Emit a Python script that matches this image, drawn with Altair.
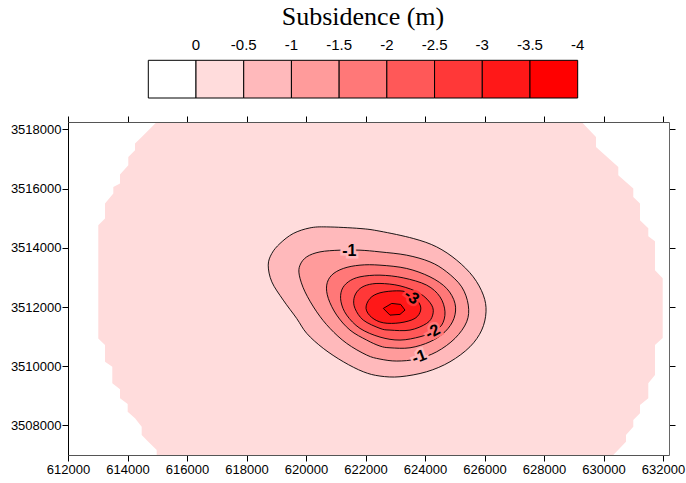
import altair as alt
import pandas as pd

# ---------------- data ----------------
legend_title = "Subsidence (m)"
legend_labels = ["0", "-0.5", "-1", "-1.5", "-2", "-2.5", "-3", "-3.5", "-4"]
legend_colors = ["#FFFFFF", "#FFDCDC", "#FFB9BB", "#FF9B9B", "#FF7878",
                 "#FF5858", "#FF3838", "#FF1818", "#FF0000"]
contour_levels = [-0.5, -1.0, -1.5, -2.0, -2.5, -3.0, -3.5]

x_ticks = [612000, 614000, 616000, 618000, 620000, 622000, 624000,
           626000, 628000, 630000, 632000]
y_ticks = [3508000, 3510000, 3512000, 3514000, 3516000, 3518000]

# outline of the gridded (blanked) area, 0 to -0.5 m
outer_x = [614981, 629265, 629746, 629746, 630496, 630496, 631000, 631000, 631225,
           631225, 631504, 631504, 631729, 631729, 631988, 631988, 631729, 631729,
           631504, 631504, 631225, 631225, 631000, 631000, 630754, 630754, 630328,
           614981, 614981, 614699, 614477, 614477, 614252, 614006, 614006, 613748,
           613748, 613489, 613489, 613244, 613244, 613018, 613018, 613244, 613244,
           613523, 613523, 613748, 613748, 614027, 614027, 614252, 614252, 614477]
outer_y = [3518250, 3518250, 3517744, 3517406, 3516731, 3516451, 3516002, 3515719,
           3515496, 3514932, 3514662, 3514392, 3514224, 3513245, 3512975, 3510950,
           3510714, 3509701, 3509421, 3508915, 3508689, 3508408, 3508182, 3507956,
           3507676, 3507450, 3507000, 3507000, 3507170, 3507450, 3507676, 3507956,
           3508240, 3508462, 3508722, 3508915, 3509218, 3509421, 3509981, 3510150,
           3510714, 3510940, 3514764, 3514990, 3515496, 3515833, 3516056, 3516171,
           3516475, 3516789, 3517069, 3517295, 3517521, 3517744]

# contour -0.5
c1_x = [618730, 618850, 619125, 619570, 620130, 620695, 621815, 622485, 623605,
        624390, 625065, 625620, 625960, 626050, 625905, 625510, 624840, 624055,
        623160, 622485, 621925, 621255, 620580, 620025, 619685, 619235, 618850]
c1_y = [3513414, 3513808, 3514146, 3514483, 3514672, 3514706, 3514652, 3514561,
        3514315, 3514031, 3513582, 3513019, 3512401, 3511837, 3511220, 3510656,
        3510150, 3509812, 3509644, 3509667, 3509812, 3510150, 3510602, 3511108,
        3511615, 3512232, 3512850]
# contour -1
c2_x = [619774, 619798, 620023, 620470, 621142, 621814, 622486, 623384, 624167,
        624728, 625232, 625454, 625400, 625007, 624392, 623720, 623048, 622486,
        622039, 621367, 620806, 620359, 619966]
c2_y = [3513076, 3513414, 3513694, 3513862, 3513920, 3513920, 3513862, 3513751,
        3513525, 3513187, 3512681, 3512064, 3511500, 3510940, 3510487, 3510241,
        3510174, 3510241, 3510376, 3510771, 3511277, 3511837, 3512512]
# contour -1.5
c3_x = [620695, 620863, 621253, 621814, 622486, 623384, 624167, 624728, 625007,
        624973, 624671, 624167, 623495, 622822, 622486, 622039, 621478, 621031, 620749]
c3_y = [3512739, 3513076, 3513302, 3513414, 3513414, 3513302, 3513019, 3512627,
        3512121, 3511615, 3511162, 3510825, 3510622, 3510622, 3510680, 3510882,
        3511220, 3511726, 3512290]
# contour -2
c4_x = [621176, 621199, 621421, 621814, 622486, 623269, 624055, 624503, 624671,
        624560, 624224, 623831, 623158, 622486, 621814, 621367]
c4_y = [3512175, 3512570, 3512850, 3513019, 3513076, 3512985, 3512739, 3512344,
        3511837, 3511389, 3511152, 3510994, 3510882, 3510984, 3511277, 3511726]
# contour -2.5
c5_x = [621612, 621757, 622039, 622486, 623158, 623831, 624224, 624257, 624055,
        623495, 622822, 622486, 621925, 621646]
c5_y = [3512290, 3512570, 3512739, 3512796, 3512715, 3512458, 3512064, 3511726,
        3511446, 3511220, 3511220, 3511277, 3511557, 3511952]
# contour -3
c6_x = [622016, 622150, 622486, 623048, 623438, 623774, 623854, 623663, 623158,
        622597, 622207]
c6_y = [3511952, 3512290, 3512479, 3512546, 3512479, 3512175, 3511895, 3511615,
        3511466, 3511466, 3511648]
# contour -3.5
c7_x = [622597, 622880, 623182, 623327, 623158, 622822]
c7_y = [3511952, 3512121, 3512087, 3511895, 3511750, 3511726]

contour_xs = [c1_x, c2_x, c3_x, c4_x, c5_x, c6_x, c7_x]
contour_ys = [c1_y, c2_y, c3_y, c4_y, c5_y, c6_y, c7_y]

# contour labels
label_level = [-1.0, -1.0, -2.0, -3.0]
label_text = ["-1", "-1", "-2", "-3"]
label_x = [621455, 623807, 624257, 623552]
label_y = [3513886, 3510319, 3511162, 3512344]
label_angle = [0, 340, 332, 35]

# ---------------- chart ----------------
X_DOMAIN = [612000, 632200]
Y_DOMAIN = [3507000, 3518250]
W, H = 601, 333
FONT = "Liberation Sans, Arial, sans-serif"


def xsc():
    return alt.Scale(domain=X_DOMAIN, nice=False, zero=False)


def ysc():
    return alt.Scale(domain=Y_DOMAIN, nice=False, zero=False)


def polygon(xs, ys, fill, stroke_width, interp):
    df = pd.DataFrame({"x": xs, "y": ys, "i": list(range(len(xs)))})
    return alt.Chart(df).mark_line(
        interpolate=interp, fill=fill, stroke="black",
        strokeWidth=max(stroke_width, 0.01),
        strokeOpacity=1 if stroke_width > 0 else 0, clip=True,
    ).encode(
        x=alt.X("x:Q", scale=xsc(), axis=None),
        y=alt.Y("y:Q", scale=ysc(), axis=None),
        order="i:Q",
    )


layers = [polygon(outer_x, outer_y, legend_colors[1], 0, "linear-closed")]
for k, (cx, cy) in enumerate(zip(contour_xs, contour_ys)):
    interp = "linear-closed" if k == len(contour_xs) - 1 else "cardinal-closed"
    layers.append(polygon(cx, cy, legend_colors[k + 2], 0.9, interp))

lab_df = pd.DataFrame({
    "x": label_x, "y": label_y, "t": label_text, "a": label_angle,
    "halo": [legend_colors[contour_levels.index(v) + 1] for v in label_level],
})
lab_enc = dict(
    x=alt.X("x:Q", scale=xsc(), axis=None),
    y=alt.Y("y:Q", scale=ysc(), axis=None),
    text="t:N",
    angle=alt.Angle("a:Q", scale=None),
)
layers.append(alt.Chart(lab_df).mark_text(
    font=FONT, fontSize=16, fontWeight="bold", strokeWidth=5
).encode(stroke=alt.Stroke("halo:N", scale=None), **lab_enc))
layers.append(alt.Chart(lab_df).mark_text(
    font=FONT, fontSize=16, fontWeight="bold", color="black"
).encode(**lab_enc))

# axes
axis_df = pd.DataFrame({"x": X_DOMAIN, "y": Y_DOMAIN})
common_axis = dict(title=None, grid=False, tickSize=6, zindex=2,
                   labelFont=FONT, labelFontSize=13, labelColor="black",
                   labelFlush=False, labelOverlap=False, format="d")
layers.append(alt.Chart(axis_df).mark_point(opacity=0).encode(
    x=alt.X("x:Q", scale=xsc(), axis=alt.Axis(orient="bottom", values=x_ticks,
            labelPadding=2, domainColor="#555", tickColor="black", **common_axis)),
    y=alt.Y("y:Q", scale=ysc(), axis=alt.Axis(orient="left", values=y_ticks,
            labelPadding=1, domainColor="black", tickColor="black", **common_axis)),
))
layers.append(alt.Chart(axis_df).mark_point(opacity=0).encode(
    x=alt.X("x:Q", scale=xsc(), axis=alt.Axis(orient="top", values=x_ticks, labels=False,
            domainColor="#555", tickColor="black", **common_axis)),
    y=alt.Y("y:Q", scale=ysc(), axis=alt.Axis(orient="right", values=y_ticks, labels=False,
            domainColor="#666", tickColor="black", **common_axis)),
))

# colour-bar legend above the map
LX = alt.Scale(domain=[0, 9], range=[80.3, 509.7], nice=False, zero=False)
LY = alt.Scale(domain=[0, 1], range=[-24, -61.7], nice=False, zero=False)
leg_df = pd.DataFrame({
    "i0": list(range(len(legend_labels))),
    "i1": list(range(1, len(legend_labels) + 1)),
    "color": legend_colors,
    "label": legend_labels,
})
layers.append(alt.Chart(leg_df).mark_rect(stroke="black", strokeWidth=1).encode(
    x=alt.X("i0:Q", scale=LX, axis=None),
    x2="i1:Q",
    y=alt.YDatum(0, scale=LY, axis=None, type="quantitative"),
    y2=alt.Y2Datum(1),
    fill=alt.Fill("color:N", scale=None),
))
layers.append(alt.Chart(leg_df).mark_text(
    font=FONT, fontSize=15, color="black", baseline="middle"
).encode(
    x=alt.X("i1:Q", scale=LX, axis=None),
    y=alt.YDatum(1.4, scale=LY, axis=None, type="quantitative"),
    text="label:N",
))
layers.append(alt.Chart(pd.DataFrame({"t": [legend_title]})).mark_text(
    font="Liberation Serif, Times New Roman, serif", fontSize=26, color="black",
    baseline="middle"
).encode(
    x=alt.XDatum(4.5, scale=LX, axis=None, type="quantitative"),
    y=alt.YDatum(2.15, scale=LY, axis=None, type="quantitative"),
    text="t:N",
))

chart = alt.layer(*layers).resolve_scale(
    x="independent", y="independent"
).properties(
    width=W, height=H,
    autosize=alt.AutoSizeParams(type="none"),
    padding={"left": 68, "top": 122, "right": 17, "bottom": 28},
    background="white",
).configure_view(stroke=None)

chart.save("out.html", embed_options={"renderer": "svg", "actions": False})
